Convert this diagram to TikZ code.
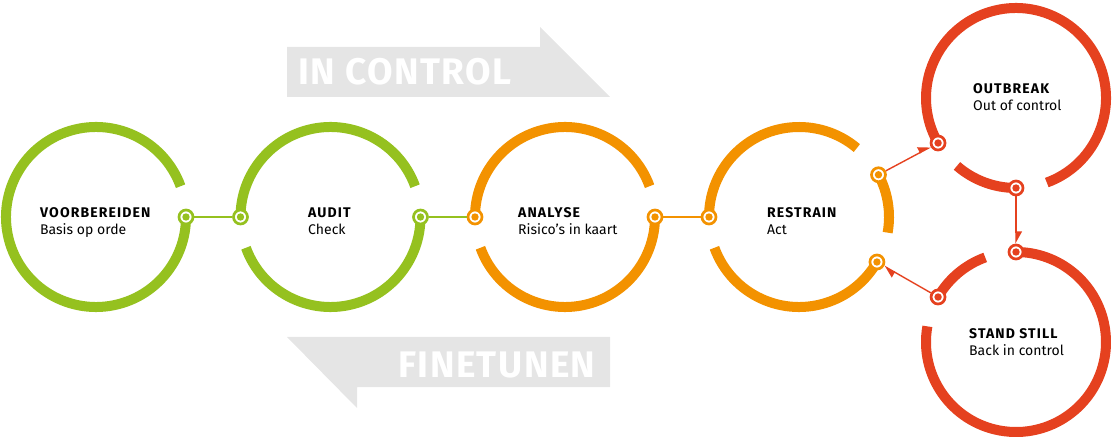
\documentclass[tikz,border=0pt]{standalone}
\usepackage{fontspec}
\setmainfont{Fira Sans}
\newfontfamily\headfont[LetterSpace=8]{Fira Sans}
\newfontfamily\bannerfont[LetterSpace=4]{Fira Sans}
\usetikzlibrary{arrows.meta}
\definecolor{limegreen}{HTML}{95C11F}
\definecolor{phaseorange}{HTML}{F39200}
\definecolor{alarmred}{HTML}{E5411F}
\definecolor{bannergrey}{HTML}{E5E5E5}
\tikzset{
	ring/.style={draw=#1,line width=10pt},
	marker/.style={circle,draw=#1,fill=white,line width=2.7pt,minimum size=14pt,inner sep=0pt,
		path picture={\fill[#1] (path picture bounding box.center) circle (3.7pt);}},
	link/.style={draw=#1,line width=1.4pt},
	flow/.style={draw=alarmred,line width=1.4pt,-{Triangle[harpoon,length=11pt,width=12pt]}},
	phase/.style={anchor=base west,align=left,inner sep=0pt,font=\fontsize{14}{17}\selectfont},
	banner/.style={anchor=base west,inner sep=0pt,text=white,font=\bannerfont\bfseries\fontsize{37}{40}\selectfont}
}
\newcommand{\ringpt}[3][]{\node[marker=#1] at ([shift={(#3:90pt)}]#2) (#2-#3) {}}
\newcommand{\ringarc}[4]{\draw[ring=#1] ([shift={(#3:90pt)}]#2) arc[start angle=#3,end angle=#4,radius=90pt]}

\begin{document}
\begin{tikzpicture}[x=1pt,y=1pt]
	\useasboundingbox (0,0) rectangle (1113,439);
	
	\fill[bannergrey] (287,392) -- (540,392) -- (540,412) -- (610,342) -- (287,342) -- cycle;
	\fill[bannergrey] (287,102) -- (610,102) -- (610,52) -- (357,52) -- (357,31) -- cycle;
	\node[banner] (incontrol) at (298,354) {IN CONTROL};
	\node[banner] (finetunen) at (398,62) {FINETUNEN};
	
	\coordinate (voor) at (96,222);
	\coordinate (audit) at (330.5,222);
	\coordinate (analyse) at (565,222);
	\coordinate (restrain) at (799,222);
	\coordinate (outbreak) at (1016,341);
	\coordinate (standstill) at (1016,97);
	
	\ringarc{limegreen}{voor}{20}{360};
	\ringarc{limegreen}{audit}{20}{180};
	\ringarc{limegreen}{audit}{200}{360};
	\ringarc{phaseorange}{analyse}{20}{180};
	\ringarc{phaseorange}{analyse}{200}{360};
	\ringarc{phaseorange}{restrain}{50}{180};
	\ringarc{phaseorange}{restrain}{200}{330};
	\ringarc{phaseorange}{restrain}{-10}{28};
	\ringarc{alarmred}{outbreak}{-70}{210};
	\ringarc{alarmred}{outbreak}{229}{270};
	\ringarc{alarmred}{standstill}{170}{450};
	\ringarc{alarmred}{standstill}{110}{150};
	
	\ringpt[limegreen]{voor}{0};
	\ringpt[limegreen]{audit}{180};
	\ringpt[limegreen]{audit}{0};
	\ringpt[phaseorange]{analyse}{180};
	\ringpt[phaseorange]{analyse}{0};
	\ringpt[phaseorange]{restrain}{180};
	\ringpt[phaseorange]{restrain}{28};
	\ringpt[phaseorange]{restrain}{-30};
	\ringpt[alarmred]{outbreak}{210};
	\ringpt[alarmred]{outbreak}{270};
	\ringpt[alarmred]{standstill}{90};
	\ringpt[alarmred]{standstill}{150};
	
	\draw[link=limegreen] (voor-0) -- (audit-180);
	\draw[link=limegreen] (audit-0) -- (analyse-180);
	\draw[link=phaseorange] (analyse-0) -- (restrain-180);
	\draw[flow] (restrain-28) -- (outbreak-210);
	\draw[flow] (outbreak-270) -- (standstill-90);
	\draw[flow] (standstill-150) -- (restrain--30);
	
	\node[phase] (t-voor) at (40,204) {{\headfont\bfseries VOORBEREIDEN}\\Basis op orde};
	\node[phase] (t-audit) at (308,204) {{\headfont\bfseries AUDIT}\\Check};
	\node[phase] (t-analyse) at (518,204) {{\headfont\bfseries ANALYSE}\\Risico’s in kaart};
	\node[phase] (t-restrain) at (767,204) {{\headfont\bfseries RESTRAIN}\\Act};
	\node[phase] (t-outbreak) at (973,328) {{\headfont\bfseries OUTBREAK}\\Out of control};
	\node[phase] (t-standstill) at (969,83) {{\headfont\bfseries STAND STILL}\\Back in control};
\end{tikzpicture}
\end{document}
